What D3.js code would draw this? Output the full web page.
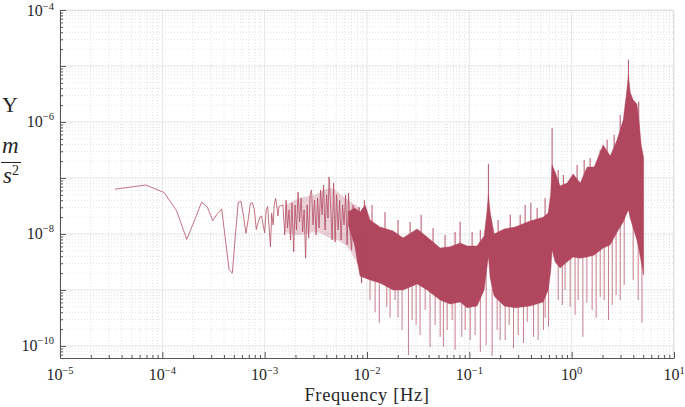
<!DOCTYPE html>
<html>
<head>
<meta charset="utf-8">
<script src="https://cdn.jsdelivr.net/npm/d3@7"></script>
<style>
  body { margin: 0; background: #fff; }
  svg { display: block; }
  text { font-family: "Liberation Serif", "Times New Roman", serif; fill: #262626; }
</style>
</head>
<body>
<div id="chart"></div>
<script>
// low frequency bins, one point per bin
const lowF = [3.45e-5, 6.9e-5, 1.04e-4, 1.38e-4, 1.73e-4, 2.07e-4, 2.42e-4, 2.76e-4, 3.11e-4, 3.45e-4,
  3.80e-4, 4.14e-4, 4.49e-4, 4.83e-4, 5.18e-4, 5.52e-4, 5.87e-4, 6.21e-4, 6.56e-4, 6.9e-4,
  7.25e-4, 7.59e-4, 7.94e-4, 8.28e-4, 8.63e-4, 8.97e-4, 9.32e-4, 9.66e-4, 1.0e-3, 1.035e-3,
  1.07e-3, 1.10e-3, 1.14e-3, 1.17e-3, 1.21e-3, 1.24e-3, 1.28e-3, 1.31e-3, 1.35e-3, 1.38e-3];
const lowV = [6.3e-8, 7.5e-8, 5.5e-8, 2.6e-8, 8.0e-9, 1.78e-8, 3.7e-8, 3.0e-8, 1.73e-8, 2.3e-8,
  2.8e-8, 7.8e-9, 2.3e-9, 2.0e-9, 9.6e-9, 3.7e-8, 3.8e-8, 2.1e-8, 1.03e-8, 1.8e-8,
  3.5e-8, 3.6e-8, 2.7e-8, 1.2e-8, 1.6e-8, 2.0e-8, 2.1e-8, 1.45e-8, 1.05e-8, 2.7e-8,
  3.1e-8, 1.45e-8, 5.9e-9, 2.35e-8, 1.45e-8, 3.3e-8, 4.3e-8, 3.3e-8, 2.1e-8, 3.1e-8];

// 1.5e-3 .. 1e-2 Hz, peaks and troughs of the trace
const midF = [1.51e-3, 1.57e-3, 1.62e-3, 1.67e-3, 1.73e-3, 1.79e-3, 1.85e-3, 1.92e-3, 1.98e-3, 2.05e-3,
  2.12e-3, 2.19e-3, 2.27e-3, 2.35e-3, 2.43e-3, 2.51e-3, 2.60e-3, 2.69e-3, 2.78e-3, 2.87e-3,
  2.97e-3, 3.07e-3, 3.18e-3, 3.29e-3, 3.40e-3, 3.52e-3, 3.64e-3, 3.76e-3, 3.89e-3, 4.03e-3,
  4.16e-3, 4.26e-3, 4.41e-3, 4.56e-3, 4.72e-3, 4.88e-3, 5.04e-3, 5.22e-3, 5.40e-3, 5.58e-3,
  5.77e-3, 5.97e-3, 6.18e-3, 6.39e-3, 6.60e-3, 6.83e-3, 7.07e-3, 7.31e-3, 7.56e-3, 7.82e-3,
  8.09e-3, 8.37e-3, 8.66e-3, 8.85e-3, 9.16e-3, 9.47e-3, 9.80e-3];
const midV = [3.3e-8, 9.6e-9, 4.0e-8, 1.28e-8, 2.7e-8, 7.8e-9, 3.6e-8, 4.8e-9, 3.3e-8, 1.18e-8,
  5.6e-8, 1.64e-8, 4.4e-8, 1.09e-8, 2.7e-8, 3.7e-9, 3.3e-8, 8.5e-9, 5.0e-8, 6.1e-8,
  1.45e-8, 4.0e-8, 9.6e-9, 4.4e-8, 1.28e-8, 6.1e-8, 2.2e-8, 7.5e-8, 1.18e-8, 5.0e-8,
  1.93e-8, 1.04e-7, 3.3e-8, 7.8e-9, 8.1e-8, 7.2e-9, 5.0e-8, 1.18e-8, 4.0e-8, 7.8e-9,
  3.3e-8, 1.45e-8, 5.0e-8, 6.4e-9, 5.4e-8, 1.09e-8, 5.2e-9, 3.3e-8, 7.8e-9, 2.7e-8,
  3.2e-9, 3.0e-8, 6.4e-9, 1.33e-9, 2.2e-8, 2.1e-9, 2.7e-8];
// where the trace is still sparse, the lines leave a pale band
const paleF = [1.58e-3, 2.22e-3, 3.11e-3, 4.36e-3, 6.11e-3, 8.55e-3];
const paleHi = [3.3e-8, 4.4e-8, 5.0e-8, 6.6e-8, 4.4e-8, 2.9e-8];
const paleLo = [1.09e-8, 9.6e-9, 1.09e-8, 8.5e-9, 6.4e-9, 2.28e-9];

// dense part: upper and lower edge of the filled band
const bandF = [6.6e-3, 7.56e-3, 8.55e-3, 9.58e-3, 1.07e-2, 1.34e-2, 1.80e-2, 2.25e-2, 3.09e-2, 3.87e-2, 5.19e-2, 6.49e-2,
  8.13e-2, 9.52e-2, 0.119, 0.1395, 0.1476, 0.1537, 0.1597, 0.1747, 0.219, 0.280,
  0.393, 0.527, 0.589, 0.623, 0.644, 0.689, 0.771, 0.903, 1.034, 1.211,
  1.418, 1.659, 2.03, 2.38, 2.78, 3.19, 3.41, 3.59, 3.73, 3.99,
  4.34, 4.52, 4.78, 5.05];
const bandHi = [2.5e-8, 2.9e-8, 2.47e-8, 3.3e-8, 1.78e-8, 1.33e-8, 1.13e-8, 8.5e-9, 1.23e-8, 8.8e-9, 5.6e-9, 5.9e-9,
  6.9e-9, 6.1e-9, 6.1e-9, 9.2e-9, 2.2e-8, 5.0e-8, 2.47e-8, 1.0e-8, 1.23e-8, 1.33e-8,
  1.71e-8, 2.0e-8, 2.37e-8, 5.0e-8, 1.71e-7, 1.28e-7, 7.2e-8, 8.1e-8, 1.18e-7, 8.1e-8,
  1.57e-7, 1.57e-7, 3.9e-7, 2.47e-7, 4.8e-7, 1.08e-6, 2.9e-6, 6.9e-6, 3.4e-6, 2.47e-6,
  2.1e-6, 1.18e-6, 3.9e-7, 2.28e-7];
const bandLo = [1.4e-8, 6.4e-9, 1.78e-9, 1.64e-9, 1.51e-9, 1.33e-9, 1.0e-9, 1.0e-9, 1.28e-9, 1.0e-9, 6.6e-10, 5.6e-10,
  6.1e-10, 4.8e-10, 5.2e-10, 1.0e-9, 2.28e-9, 4.0e-9, 1.64e-9, 7.8e-10, 5.2e-10, 4.8e-10,
  5.2e-10, 6.1e-10, 1.0e-9, 2.1e-9, 5.2e-9, 3.2e-9, 2.47e-9, 3.2e-9, 3.9e-9, 3.7e-9,
  3.9e-9, 4.2e-9, 5.6e-9, 6.4e-9, 1.08e-8, 1.64e-8, 2.2e-8, 2.7e-8, 1.93e-8, 1.28e-8,
  7.8e-9, 5.6e-9, 3.2e-9, 1.85e-9];

// single bins sticking out below the band
const dipF = [1.07e-2, 1.20e-2, 1.32e-2, 1.56e-2, 1.68e-2, 1.88e-2, 2.01e-2, 2.20e-2, 2.54e-2, 2.76e-2,
  3.02e-2, 3.30e-2, 3.70e-2, 4.14e-2, 4.63e-2, 5.19e-2, 5.58e-2, 6.07e-2, 6.79e-2, 7.26e-2,
  8.44e-2, 9.1e-2, 0.102, 0.114, 0.128, 0.146, 0.167, 0.187, 0.2, 0.224,
  0.245, 0.27, 0.300, 0.338, 0.368, 0.424, 0.47, 0.53, 0.55, 0.594,
  0.739, 0.81, 0.862, 0.966, 1.08, 1.157, 1.287, 1.408, 1.586, 1.735,
  1.9, 2.08, 2.29, 2.49, 2.72, 2.98, 3.26, 3.99, 4.47, 4.86];
const dipV = [6.6e-10, 4.0e-10, 2.6e-10, 5.0e-10, 3.2e-10, 6.6e-10, 3.2e-10, 1.93e-10, 6.9e-11, 2.9e-10,
  2.4e-10, 1.57e-10, 4.4e-10, 9.6e-11, 2.37e-10, 1.45e-10, 9.6e-11, 1.93e-10, 2.9e-10, 8.5e-11,
  1.45e-10, 1.93e-10, 1.28e-10, 1.57e-10, 7.8e-11, 1.04e-10, 6.6e-11, 1.93e-10, 1.28e-10, 1.28e-10,
  2.37e-10, 9.2e-11, 1.57e-10, 1.13e-10, 2.7e-10, 1.45e-10, 1.28e-10, 1.93e-10, 3.2e-10, 2.2e-10,
  6.6e-10, 5.4e-10, 1.0e-9, 5.0e-10, 3.6e-10, 6.6e-10, 1.45e-10, 5.9e-10, 4.4e-10, 3.2e-10,
  7.5e-10, 6.6e-10, 2.9e-10, 5.4e-10, 8.1e-10, 6.6e-10, 1.23e-9, 1.51e-9, 6.6e-10, 2.6e-10];
// and above it
const peakF = [9.44e-3, 1.12e-2, 1.50e-2, 2.01e-2, 2.64e-2, 3.38e-2, 4.42e-2, 5.79e-2, 7.26e-2, 8.13e-2,
  0.1065, 0.128, 0.1537, 0.191, 0.251, 0.314, 0.351, 0.399, 0.460, 0.55,
  0.644, 0.739, 0.83, 1.13, 1.325, 1.516, 1.9, 2.22, 2.60, 2.98,
  3.59, 4.52];
const peakV = [4.0e-8, 3.3e-8, 2.47e-8, 1.78e-8, 1.64e-8, 2.2e-8, 1.28e-8, 9.6e-9, 1.09e-8, 1.66e-8,
  1.09e-8, 1.18e-8, 1.8e-7, 1.78e-8, 2.2e-8, 2.2e-8, 3.3e-8, 3.6e-8, 2.9e-8, 4.4e-8,
  7.8e-7, 1.39e-7, 1.13e-7, 1.71e-7, 2.1e-7, 2.28e-7, 3.2e-7, 4.8e-7, 5.9e-7, 1.33e-6,
  1.3e-5, 2.3e-6];

const xMajor = [-5, -4, -3, -2, -1, 0, 1];
const yMajor = [-10, -8, -6, -4];

const width = 685, height = 407;
const color = "#b0475f";

const svg = d3.select("#chart").append("svg")
  .attr("width", width)
  .attr("height", height);

const x = d3.scaleLog().domain([1e-5, 10]).range([60, 674]);
const y = d3.scaleLog().domain([6.1e-11, 1e-4]).range([358, 10]);

// minor values: 2..9 times each decade
const minors = (lo, hi) => {
  const out = [];
  for (let e = lo; e <= hi; e++)
    for (let k = 2; k <= 9; k++) out.push(k * Math.pow(10, e));
  return out;
};
const xMinor = minors(-5, 0);
const yMinor = minors(-11, -5).filter(v => v > 6.1e-11 && v < 1e-4);
const yDecades = d3.range(-10, -3).map(e => Math.pow(10, e));
const xDecades = xMajor.map(e => Math.pow(10, e));

// grid
const grid = svg.append("g");
grid.selectAll(".xm").data(xMinor).join("line")
  .attr("x1", d => x(d)).attr("x2", d => x(d)).attr("y1", 10).attr("y2", 358)
  .attr("stroke", "#dcdcdc").attr("stroke-width", 0.8).attr("stroke-dasharray", "1,2");
grid.selectAll(".ym").data(yMinor).join("line")
  .attr("x1", 60).attr("x2", 674).attr("y1", d => y(d)).attr("y2", d => y(d))
  .attr("stroke", "#dcdcdc").attr("stroke-width", 0.8).attr("stroke-dasharray", "1,2");
grid.selectAll(".xM").data(xDecades).join("line")
  .attr("x1", d => x(d)).attr("x2", d => x(d)).attr("y1", 10).attr("y2", 358)
  .attr("stroke", "#e6e6e6");
grid.selectAll(".yM").data(yDecades).join("line")
  .attr("x1", 60).attr("x2", 674).attr("y1", d => y(d)).attr("y2", d => y(d))
  .attr("stroke", "#e6e6e6");
// light frame on top and right
grid.append("path").attr("d", "M60,10.5H673.5V358").attr("fill", "none").attr("stroke", "#e0e0e0");

// clip to plotting area
svg.append("clipPath").attr("id", "clip")
  .append("rect").attr("x", 60).attr("y", 10).attr("width", 614).attr("height", 348);
const plot = svg.append("g").attr("clip-path", "url(#clip)");

// spikes go from the band centre to their tip
const bandMid = f => {
  const i = d3.bisectCenter(bandF, f);
  return Math.sqrt(bandHi[i] * bandLo[i]);
};
plot.selectAll(".dip").data(dipF).join("line")
  .attr("x1", d => x(d)).attr("x2", d => x(d))
  .attr("y1", d => y(bandMid(d))).attr("y2", (d, i) => y(dipV[i]))
  .attr("stroke", color).attr("stroke-width", 1).attr("stroke-opacity", 0.7);
plot.selectAll(".peak").data(peakF).join("line")
  .attr("x1", d => x(d)).attr("x2", d => x(d))
  .attr("y1", d => y(bandMid(d))).attr("y2", (d, i) => y(peakV[i]))
  .attr("stroke", color).attr("stroke-width", 1.1).attr("stroke-opacity", 0.85);

// pale band under the sparse trace
const area = d3.area()
  .x(d => x(d[0])).y0(d => y(d[2])).y1(d => y(d[1]))
  .curve(d3.curveMonotoneX);
plot.append("path")
  .datum(paleF.map((f, i) => [f, paleHi[i], paleLo[i]]))
  .attr("d", area)
  .attr("fill", color).attr("fill-opacity", 0.25);

// dense band
plot.append("path")
  .datum(bandF.map((f, i) => [f, bandHi[i], bandLo[i]]))
  .attr("d", area.curve(d3.curveLinear))
  .attr("fill", color)
  .attr("stroke", color).attr("stroke-width", 0.8).attr("stroke-opacity", 0.6);

// single trace at low frequency
const line = d3.line().x(d => x(d[0])).y(d => y(d[1]));
const trace = lowF.map((f, i) => [f, lowV[i]]).concat(midF.map((f, i) => [f, midV[i]]));
plot.append("path")
  .datum(trace)
  .attr("d", line)
  .attr("fill", "none")
  .attr("stroke", color).attr("stroke-width", 0.9).attr("stroke-opacity", 0.85)
  .attr("stroke-linejoin", "round");

// axes
const axisColor = "#555";
const xAxis = svg.append("g").attr("transform", "translate(0,358)");
xAxis.call(d3.axisBottom(x).tickValues(xDecades).tickSize(-6).tickSizeOuter(0).tickFormat(""));
xAxis.append("g").call(d3.axisBottom(x).tickValues(xMinor).tickSize(-3).tickSizeOuter(0).tickFormat(""))
  .select(".domain").remove();
const yAxis = svg.append("g").attr("transform", "translate(60,0)");
yAxis.call(d3.axisLeft(y).tickValues(yDecades).tickSize(-6).tickSizeOuter(0).tickFormat(""));
yAxis.append("g").call(d3.axisLeft(y).tickValues(yMinor).tickSize(-3).tickSizeOuter(0).tickFormat(""))
  .select(".domain").remove();
svg.selectAll(".domain").attr("stroke", axisColor);
svg.selectAll(".tick line").attr("stroke", axisColor);

// tick labels 10^n
const power = (g, e) => {
  g.append("tspan").text("10");
  g.append("tspan").attr("dy", -6.5).attr("font-size", 10.5).text(e < 0 ? "\u2212" + (-e) : String(e));
};
xMajor.forEach(e => {
  const t = svg.append("text")
    .attr("x", x(Math.pow(10, e))).attr("y", 380)
    .attr("text-anchor", "middle").attr("font-size", 16);
  power(t, e);
});
yMajor.forEach(e => {
  const t = svg.append("text")
    .attr("x", 54).attr("y", Math.max(y(Math.pow(10, e)) + 5, 16))
    .attr("text-anchor", "end").attr("font-size", 16);
  power(t, e);
});

// axis titles
svg.append("text")
  .attr("x", 367).attr("y", 401)
  .attr("text-anchor", "middle").attr("font-size", 18.5).attr("letter-spacing", 0.6)
  .text("Frequency [Hz]");

svg.append("text").attr("x", 2).attr("y", 112).attr("font-size", 22).text("Y");
svg.append("text").attr("x", 2).attr("y", 153).attr("font-size", 23)
  .attr("font-style", "italic").text("m");
svg.append("line").attr("x1", 1).attr("x2", 21).attr("y1", 162.5).attr("y2", 162.5)
  .attr("stroke", "#262626").attr("stroke-width", 1);
const s2 = svg.append("text").attr("x", 3).attr("y", 183).attr("font-size", 23)
  .attr("font-style", "italic");
s2.append("tspan").text("s");
s2.append("tspan").attr("dy", -8).attr("font-size", 14).attr("font-style", "normal").text("2");
</script>
</body>
</html>
